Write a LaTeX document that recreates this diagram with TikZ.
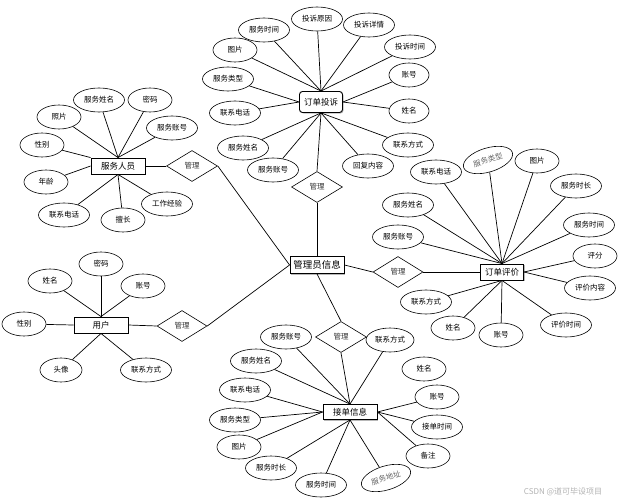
\documentclass[tikz,border=0pt]{standalone}
\usepackage{fontspec}
\newfontfamily\cjk{Noto Sans CJK SC}
\usetikzlibrary{shapes.geometric,shadows}
\begin{document}
\begin{tikzpicture}[x=1pt,y=-1pt,
  attr/.style={ellipse,draw,line width=0.6pt,minimum width=51pt,minimum height=24pt,inner sep=0pt,font=\cjk\fontsize{7.5}{8}\selectfont},
  sattr/.style={attr,minimum width=44pt},
  rattr/.style={attr,rotate=17,text=black!60,font=\cjk\fontsize{7.5}{8}\selectfont},
  ent/.style={rectangle,draw,line width=0.9pt,fill=white,minimum width=54pt,minimum height=16pt,inner sep=0pt,font=\cjk\fontsize{8.5}{9}\selectfont,drop shadow={shadow xshift=1pt,shadow yshift=-1pt,fill=gray!70,opacity=0.8}},
  rel/.style={diamond,draw,line width=0.6pt,minimum width=51pt,minimum height=31pt,inner sep=0pt,font=\cjk\fontsize{7.5}{8}\selectfont,text=black!80},
  conn/.style={line width=0.7pt},
  wm/.style={font=\cjk\fontsize{8}{9}\selectfont,text=gray!60}
]
\useasboundingbox (0,0) rectangle (624,503);

% central entity
\node[ent,minimum width=54pt,minimum height=17pt,font=\cjk\fontsize{9.5}{10}\selectfont] (admin) at (317,265) {管理员信息};

% ===== 订单投诉 =====
\node[ent,rounded corners=3pt,minimum width=43pt,minimum height=21pt] (tousu) at (321,102) {订单投诉};
\node[attr] (t1) at (317,19) {投诉原因};
\node[attr] (t2) at (369,25) {投诉详情};
\node[attr] (t3) at (264,30) {服务时间};
\node[sattr] (t4) at (235,50) {图片};
\node[attr] (t5) at (410,47) {投诉时间};
\node[attr] (t6) at (228,79) {服务类型};
\node[sattr,minimum width=40pt] (t7) at (409,75) {账号};
\node[attr] (t8) at (235,113) {联系电话};
\node[sattr,minimum width=40pt] (t9) at (409,111) {姓名};
\node[attr] (t10) at (243,148) {服务姓名};
\node[attr] (t11) at (408,145) {联系方式};
\node[attr] (t12) at (273,170) {服务账号};
\node[attr] (t13) at (368,166) {回复内容};
\foreach \a in {t1,t2,t3,t4,t5} \draw[conn] (\a) -- (tousu.north);
\foreach \a in {t6,t8} \draw[conn] (\a) -- (tousu.west);
\foreach \a in {t7,t9} \draw[conn] (\a) -- (tousu.east);
\foreach \a in {t10,t11,t12,t13} \draw[conn] (\a) -- (tousu.south);
\node[rel] (m1) at (317,187) {管理};
\draw[conn] (tousu.south) -- (m1.north);
\draw[conn] (m1.south) -- (admin.north);

% ===== 服务人员 =====
\node[ent] (staff) at (118,166) {服务人员};
\node[attr] (s1) at (99,100) {服务姓名};
\node[sattr] (s2) at (150,100) {密码};
\node[sattr] (s3) at (59,117) {照片};
\node[attr] (s4) at (172,128) {服务账号};
\node[sattr] (s5) at (42,145) {性别};
\node[sattr] (s6) at (46,182) {年龄};
\node[attr] (s7) at (167,204) {工作经验};
\node[attr] (s8) at (64,215) {联系电话};
\node[sattr] (s9) at (123,220) {擅长};
\foreach \a in {s1,s2,s3,s4} \draw[conn] (\a) -- (staff.north);
\draw[conn] (s5) -- (staff.north west);
\draw[conn] (s6) -- (staff.west);
\foreach \a in {s7,s8,s9} \draw[conn] (\a) -- (staff.south);
\node[rel] (m2) at (192,166) {管理};
\draw[conn] (staff.east) -- (m2.west);
\draw[conn] (m2.east) -- (admin.west);

% ===== 用户 =====
\node[ent] (user) at (101,325) {用户};
\node[sattr] (u1) at (50,281) {姓名};
\node[sattr] (u2) at (101,264) {密码};
\node[sattr] (u3) at (143,286) {账号};
\node[sattr] (u4) at (24,324) {性别};
\node[sattr,minimum width=42pt] (u5) at (61,370) {头像};
\node[attr] (u6) at (146,370) {联系方式};
\foreach \a in {u1,u2,u3} \draw[conn] (\a) -- (user.north);
\draw[conn] (u4) -- (user.west);
\foreach \a in {u5,u6} \draw[conn] (\a) -- (user.south);
\node[rel,minimum width=50pt] (m3) at (182,326) {管理};
\draw[conn] (user.east) -- (m3.west);
\draw[conn] (m3.east) -- (admin.west);

% ===== 订单评价 =====
\node[ent,minimum width=43pt] (review) at (502,272) {订单评价};
\node[rattr] (r1) at (488,160) {服务类型};
\node[sattr] (r2) at (537,161) {图片};
\node[attr] (r3) at (436,172) {联系电话};
\node[attr] (r4) at (576,186) {服务时长};
\node[attr] (r5) at (408,205) {服务姓名};
\node[attr] (r6) at (589,225) {服务时间};
\node[attr] (r7) at (398,237) {服务账号};
\node[sattr] (r8) at (595,256) {评分};
\node[attr] (r9) at (590,288) {评价内容};
\node[attr] (r10) at (426,302) {联系方式};
\node[sattr] (r11) at (453,328) {姓名};
\node[sattr] (r12) at (501,335) {账号};
\node[attr] (r13) at (566,325) {评价时间};
\foreach \a in {r1,r2,r3,r4,r5,r6,r7} \draw[conn] (\a) -- (review.north);
\foreach \a in {r8,r9} \draw[conn] (\a) -- (review.east);
\foreach \a in {r10,r11,r12,r13} \draw[conn] (\a) -- (review.south);
\node[rel,minimum width=50pt] (m4) at (398,272) {管理};
\draw[conn] (admin.east) -- (m4.west);
\draw[conn] (m4.east) -- (review.west);

% ===== 接单信息 =====
\node[ent,minimum height=15pt] (order) at (350,412) {接单信息};
\node[attr] (o1) at (286,337) {服务账号};
\node[attr,minimum width=48pt] (o2) at (390,340) {联系方式};
\node[attr] (o3) at (256,361) {服务姓名};
\node[sattr] (o4) at (424,369) {姓名};
\node[attr] (o5) at (245,390) {联系电话};
\node[sattr] (o6) at (437,397) {账号};
\node[attr] (o7) at (235,420) {服务类型};
\node[attr] (o8) at (437,427) {接单时间};
\node[sattr] (o9) at (239,447) {图片};
\node[sattr] (o10) at (428,456) {备注};
\node[attr] (o11) at (271,468) {服务时长};
\node[attr] (o12) at (321,485) {服务时间};
\node[rattr] (o13) at (386,478) {服务地址};
\foreach \a in {o1,o2,o3} \draw[conn] (\a) -- (order.north);
\foreach \a in {o5,o7,o9} \draw[conn] (\a) -- (order.west);
\foreach \a in {o6,o8,o10} \draw[conn] (\a) -- (order.east);
\foreach \a in {o11,o12,o13} \draw[conn] (\a) -- (order.south);
\node[rel] (m5) at (341,337) {管理};
\draw[conn] (admin.south) -- (m5.north);
\draw[conn] (m5.south) -- (order.north);

% watermark
\node[wm] (wmk) at (563,492) {CSDN @道可毕设项目};
\end{tikzpicture}
\end{document}
